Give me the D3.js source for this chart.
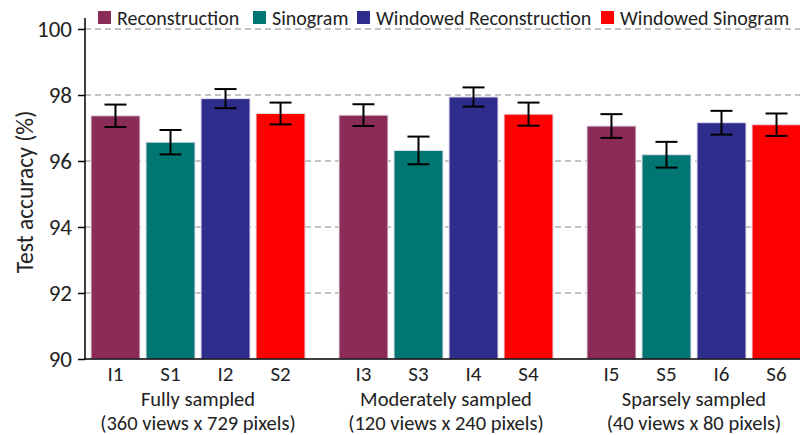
<!DOCTYPE html>
<html>
<head>
<meta charset="utf-8">
<script src="https://cdn.jsdelivr.net/npm/d3@7"></script>
<style>
  body { margin: 0; background: #fff; }
  svg text { font-family: Carlito, Calibri, Lato, sans-serif; fill: #222; }
</style>
</head>
<body>
<div id="chart"></div>
<script>
// Data
const groups = ['Fully sampled', 'Moderately sampled', 'Sparsely sampled'];
const groupSub = ['(360 views x 729 pixels)', '(120 views x 240 pixels)', '(40 views x 80 pixels)'];
const series = ['Reconstruction', 'Sinogram', 'Windowed Reconstruction', 'Windowed Sinogram'];
const barLabels = [
  ['I1', 'S1', 'I2', 'S2'],
  ['I3', 'S3', 'I4', 'S4'],
  ['I5', 'S5', 'I6', 'S6'],
];
const means = [
  [97.37, 96.57, 97.89, 97.44],
  [97.39, 96.32, 97.94, 97.42],
  [97.06, 96.19, 97.16, 97.10],
];
const errs = [
  [0.34, 0.37, 0.29, 0.33],
  [0.33, 0.42, 0.29, 0.35],
  [0.36, 0.39, 0.36, 0.34],
];
const yTicks = [90, 92, 94, 96, 98, 100];
const colors = ['#8b2c57', '#007672', '#2e2d8c', '#ff0000'];

const width = 800;
const height = 435;
const margin = { top: 18, right: 0, bottom: 75, left: 85 };

const svg = d3.select('#chart')
  .append('svg')
  .attr('width', width)
  .attr('height', height);

// Scales
const x0 = d3.scaleBand()
  .domain(groups)
  .range([91, 801])
  .paddingInner(0.137)
  .paddingOuter(0);

const x1 = d3.scaleBand()
  .domain(series)
  .range([0, x0.bandwidth()])
  .paddingInner(0.11)
  .paddingOuter(0);

const y = d3.scaleLinear()
  .domain([90, 100])
  .range([359, 29]);

// Gridlines
svg.append('g')
  .selectAll('line')
  .data(yTicks.filter((d) => d > 90))
  .enter()
  .append('line')
  .attr('x1', margin.left)
  .attr('x2', width)
  .attr('y1', (d) => y(d))
  .attr('y2', (d) => y(d))
  .attr('stroke', '#b0b0b0')
  .attr('stroke-width', 1.3)
  .attr('stroke-dasharray', '6,4');

// Bars
const g = svg.append('g')
  .selectAll('g')
  .data(groups)
  .enter()
  .append('g')
  .attr('transform', (d) => 'translate(' + x0(d) + ',0)');

g.selectAll('rect')
  .data((d, i) => series.map((s, j) => ({ s: s, v: means[i][j], e: errs[i][j], label: barLabels[i][j], j: j })))
  .enter()
  .append('rect')
  .attr('x', (d) => x1(d.s))
  .attr('y', (d) => y(d.v))
  .attr('width', x1.bandwidth())
  .attr('height', (d) => y(90) - y(d.v))
  .attr('fill', (d) => colors[d.j])
  .attr('stroke', '#e4dcec')
  .attr('stroke-width', 1);

// Error bars
const eb = g.selectAll('g.err')
  .data((d, i) => series.map((s, j) => ({ s: s, v: means[i][j], e: errs[i][j] })))
  .enter()
  .append('g')
  .attr('class', 'err')
  .attr('stroke', '#000')
  .attr('stroke-width', 2);

eb.append('line')
  .attr('x1', (d) => x1(d.s) + x1.bandwidth() / 2)
  .attr('x2', (d) => x1(d.s) + x1.bandwidth() / 2)
  .attr('y1', (d) => y(d.v + d.e))
  .attr('y2', (d) => y(d.v - d.e));

eb.selectAll('line.cap')
  .data((d) => [{ s: d.s, v: d.v + d.e }, { s: d.s, v: d.v - d.e }])
  .enter()
  .append('line')
  .attr('class', 'cap')
  .attr('x1', (d) => x1(d.s) + x1.bandwidth() / 2 - 11)
  .attr('x2', (d) => x1(d.s) + x1.bandwidth() / 2 + 11)
  .attr('y1', (d) => y(d.v))
  .attr('y2', (d) => y(d.v));

// Bar labels
g.selectAll('text.bl')
  .data((d, i) => series.map((s, j) => ({ s: s, label: barLabels[i][j] })))
  .enter()
  .append('text')
  .attr('class', 'bl')
  .attr('x', (d) => x1(d.s) + x1.bandwidth() / 2)
  .attr('y', 381)
  .attr('text-anchor', 'middle')
  .style('font-size', '21px')
  .text((d) => d.label);

// Group labels
g.append('text')
  .attr('x', x0.bandwidth() / 2)
  .attr('y', 406)
  .attr('text-anchor', 'middle')
  .style('font-size', '20.5px')
  .text((d) => d);

g.append('text')
  .attr('x', x0.bandwidth() / 2)
  .attr('y', 430)
  .attr('text-anchor', 'middle')
  .style('font-size', '20.5px')
  .text((d, i) => groupSub[i]);

// Y axis
const yAxis = svg.append('g')
  .attr('transform', 'translate(' + margin.left + ',0)')
  .call(d3.axisLeft(y).tickValues(yTicks).tickSize(7).tickPadding(6).tickFormat(d3.format('d')));
yAxis.select('.domain').attr('d', 'M0,' + margin.top + 'V' + y(90)).attr('stroke', '#000').attr('stroke-width', 1.5);
yAxis.selectAll('.tick line').attr('stroke', '#000').attr('stroke-width', 1.5);
yAxis.selectAll('.tick text').style('font-size', '23px').attr('fill', '#222');

// X axis line
svg.append('line')
  .attr('x1', margin.left)
  .attr('x2', width)
  .attr('y1', y(90))
  .attr('y2', y(90))
  .attr('stroke', '#000')
  .attr('stroke-width', 1.5);

// Y title
svg.append('text')
  .attr('transform', 'translate(33,' + 192 + ') rotate(-90)')
  .attr('text-anchor', 'middle')
  .style('font-size', '23.5px')
  .text('Test accuracy (%)');

// Legend
const legendX = [98, 253, 357, 601];
const legend = svg.append('g')
  .selectAll('g')
  .data(series)
  .enter()
  .append('g')
  .attr('transform', (d, i) => 'translate(' + legendX[i] + ',11)');

legend.append('rect')
  .attr('width', 13)
  .attr('height', 13)
  .attr('fill', (d, i) => colors[i]);

legend.append('text')
  .attr('x', 19)
  .attr('y', 13.5)
  .style('font-size', '20px')
  .text((d) => d);
</script>
</body>
</html>
